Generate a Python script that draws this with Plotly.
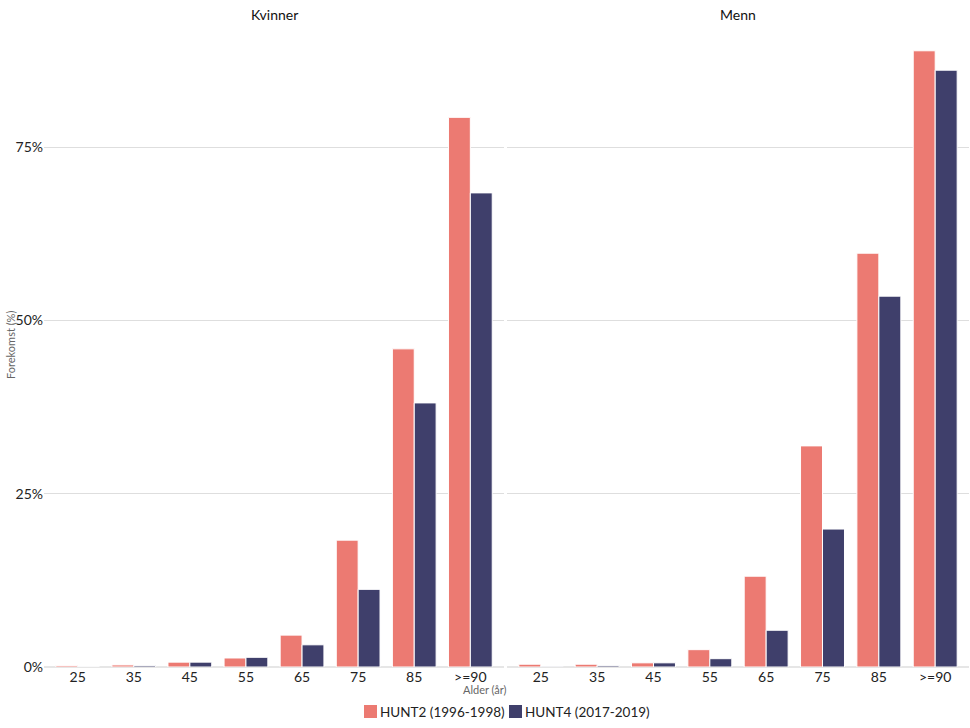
import plotly.graph_objects as go
from plotly.subplots import make_subplots

ages = ["25", "35", "45", "55", "65", "75", "85", ">=90"]
panels = ["Kvinner", "Menn"]
series_names = ["HUNT2 (1996-1998)", "HUNT4 (2017-2019)"]
colors = ["#EC7A72", "#3F3F6B"]

kvinner_hunt2 = [0.002, 0.003, 0.007, 0.013, 0.046, 0.183, 0.459, 0.793]
kvinner_hunt4 = [0.0005, 0.002, 0.007, 0.014, 0.032, 0.112, 0.381, 0.684]
menn_hunt2 = [0.004, 0.004, 0.006, 0.025, 0.131, 0.319, 0.597, 0.889]
menn_hunt4 = [0.001, 0.002, 0.006, 0.012, 0.053, 0.199, 0.535, 0.861]

data = {"Kvinner": [kvinner_hunt2, kvinner_hunt4], "Menn": [menn_hunt2, menn_hunt4]}

W, H = 970, 728
T, B = 30, 61
PH = H - T - B  # plot height in px
PB = H - B      # pixel y of plot bottom


def py(p):
    """pixel y -> paper y"""
    return (PB - p) / PH


def px(p):
    return p / W


fig = make_subplots(rows=1, cols=2, shared_yaxes=True, horizontal_spacing=0.003)

for ci, panel in enumerate(panels):
    for si, name in enumerate(series_names):
        fig.add_trace(go.Bar(
            x=ages, y=data[panel][si], name=name,
            marker=dict(color=colors[si], line=dict(color="white", width=1)),
            showlegend=False,
        ), row=1, col=ci + 1)

font_family = "Lato, Open Sans, sans-serif"
fig.update_layout(
    width=W, height=H,
    margin=dict(l=0, r=0, t=T, b=B),
    paper_bgcolor="white", plot_bgcolor="white",
    barmode="group", bargap=0.22, bargroupgap=0.0,
    font=dict(family=font_family, size=14, color="#333333"),
    showlegend=False,
)

fig.update_xaxes(showgrid=False, zeroline=False, showline=False, ticks="",
                 tickfont=dict(size=14, color="#222222"), range=[-0.6, 7.6],
                 automargin=False)
fig.layout.xaxis.domain = [px(44), px(504)]
fig.layout.xaxis2.domain = [px(507), px(969)]

fig.update_yaxes(range=[0, 0.919], tickvals=[0, 0.25, 0.5, 0.75], tickformat=".0%",
                 showgrid=True, gridcolor="#DEDEDE", gridwidth=1,
                 zeroline=True, zerolinecolor="#E6E6E6", zerolinewidth=2,
                 showline=False, ticks="", tickfont=dict(size=14, color="#222222"),
                 automargin=False)
fig.update_yaxes(showticklabels=False, row=1, col=2)

# strip titles
fig.add_annotation(text="Kvinner", xref="paper", x=px((44 + 504) / 2), yref="paper",
                   y=py(15), showarrow=False, xanchor="center", yanchor="middle",
                   font=dict(size=14, color="#111111"))
fig.add_annotation(text="Menn", xref="paper", x=px((507 + 969) / 2), yref="paper",
                   y=py(15), showarrow=False, xanchor="center", yanchor="middle",
                   font=dict(size=14, color="#111111"))

# axis titles
fig.add_annotation(text="Alder (år)", xref="paper", x=px(485), yref="paper",
                   y=py(689), showarrow=False, xanchor="center", yanchor="middle",
                   font=dict(size=11, color="#666666"))
fig.add_annotation(text="Forekomst (%)", xref="paper", x=px(10), xanchor="center",
                   yref="paper", y=py(345), yanchor="middle",
                   textangle=-90, showarrow=False, font=dict(size=11, color="#666666"))

# manual legend (compact, square swatches)
legend_x = [364, 509]
for si, name in enumerate(series_names):
    x0 = legend_x[si]
    fig.add_shape(type="rect", xref="paper", yref="paper",
                  x0=px(x0), x1=px(x0 + 13), y0=py(718), y1=py(705),
                  fillcolor=colors[si], line=dict(width=0))
    fig.add_annotation(text=name, xref="paper", x=px(x0 + 14), xanchor="left",
                       yref="paper", y=py(711.5), yanchor="middle", showarrow=False,
                       font=dict(size=13.5, color="#222222"))

fig.write_html("out.html")
